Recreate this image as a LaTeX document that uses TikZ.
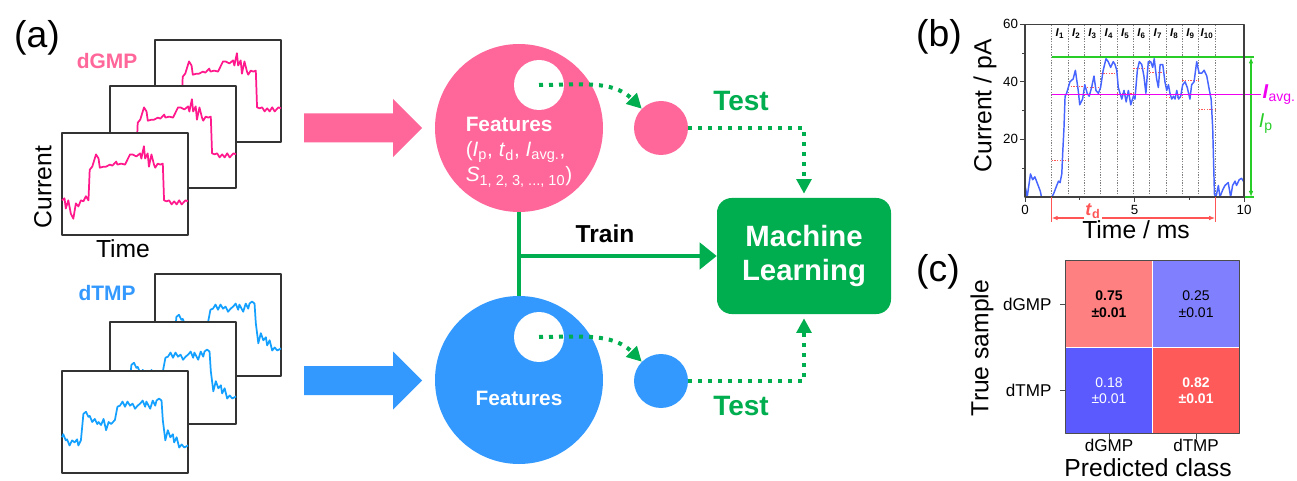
\documentclass[tikz,border=0pt]{standalone}
\usepackage{fontspec}
\setmainfont{Liberation Sans}
\usetikzlibrary{arrows.meta,positioning}
\definecolor{gmppink}{RGB}{255,102,153}
\definecolor{gmpline}{RGB}{255,25,140}
\definecolor{tmpblue}{RGB}{51,153,255}
\definecolor{tmpline}{RGB}{20,160,255}
\definecolor{mlgreen}{RGB}{0,173,79}
\definecolor{ipgreen}{RGB}{40,205,40}
\definecolor{avgmag}{RGB}{240,0,240}
\definecolor{tdred}{RGB}{255,85,85}
\definecolor{evblue}{RGB}{70,100,255}
\definecolor{cGG}{RGB}{255,128,128}
\definecolor{cGT}{RGB}{128,128,255}
\definecolor{cTG}{RGB}{90,90,255}
\definecolor{cTT}{RGB}{255,90,90}
% traces in a unit box (y down)
\def\gmpcurve{(0,0.66)--(0.02,0.64)--(0.03,0.74)--(0.05,0.66)--(0.07,0.79)--(0.09,0.84)--(0.11,0.69)--(0.13,0.72)--(0.15,0.66)--(0.17,0.67)--(0.19,0.62)--(0.21,0.66)--(0.22,0.36)--(0.24,0.33)--(0.27,0.21)--(0.29,0.25)--(0.30,0.34)--(0.33,0.33)--(0.35,0.33)--(0.38,0.31)--(0.40,0.32)--(0.43,0.28)--(0.44,0.31)--(0.47,0.30)--(0.50,0.31)--(0.52,0.26)--(0.54,0.21)--(0.56,0.21)--(0.59,0.23)--(0.62,0.20)--(0.63,0.25)--(0.65,0.13)--(0.66,0.25)--(0.68,0.20)--(0.69,0.33)--(0.71,0.21)--(0.73,0.31)--(0.74,0.34)--(0.76,0.30)--(0.78,0.31)--(0.80,0.30)--(0.81,0.66)--(0.83,0.67)--(0.85,0.66)--(0.87,0.70)--(0.89,0.67)--(0.91,0.70)--(0.93,0.66)--(0.95,0.70)--(0.98,0.66)--(1,0.67)}
\def\tmpcurve{(0,0.65)--(0.01,0.62)--(0.03,0.68)--(0.04,0.67)--(0.06,0.73)--(0.08,0.68)--(0.10,0.70)--(0.12,0.67)--(0.13,0.73)--(0.15,0.68)--(0.17,0.42)--(0.19,0.40)--(0.21,0.45)--(0.22,0.44)--(0.24,0.50)--(0.26,0.47)--(0.28,0.52)--(0.29,0.50)--(0.31,0.53)--(0.33,0.47)--(0.35,0.58)--(0.37,0.50)--(0.39,0.52)--(0.42,0.48)--(0.44,0.35)--(0.46,0.34)--(0.48,0.30)--(0.50,0.35)--(0.52,0.30)--(0.54,0.34)--(0.56,0.32)--(0.58,0.37)--(0.60,0.34)--(0.62,0.32)--(0.64,0.29)--(0.66,0.35)--(0.67,0.30)--(0.70,0.37)--(0.72,0.29)--(0.74,0.34)--(0.75,0.29)--(0.77,0.27)--(0.79,0.29)--(0.80,0.48)--(0.82,0.68)--(0.84,0.58)--(0.86,0.65)--(0.88,0.62)--(0.89,0.70)--(0.91,0.65)--(0.93,0.75)--(0.95,0.72)--(0.97,0.75)--(1,0.73)}
% event in ms / pA
\def\eventcurve{(0,4)--(0.1,0)--(0.25,8)--(0.35,6)--(0.45,7)--(0.6,4)--(0.7,2)--(0.75,0)--(1.22,0)--(1.3,1)--(1.45,4)--(1.53,5.5)--(1.6,5)--(1.68,8)--(1.72,15)--(1.78,24)--(1.83,35)--(1.9,36)--(2.05,40)--(2.2,41)--(2.3,44)--(2.43,37)--(2.5,32)--(2.63,34)--(2.73,39)--(2.84,36)--(2.93,35)--(3.04,38)--(3.15,42)--(3.24,37)--(3.35,36)--(3.45,38)--(3.57,44)--(3.7,48)--(3.8,47)--(3.91,45)--(4.03,47)--(4.11,46)--(4.19,44)--(4.26,38)--(4.34,36)--(4.42,34)--(4.52,37)--(4.62,33)--(4.72,37)--(4.83,32)--(4.95,35)--(5.02,34)--(5.13,44)--(5.22,47)--(5.33,46)--(5.43,42)--(5.52,36)--(5.63,47)--(5.74,47)--(5.83,45)--(5.9,48)--(6.01,41)--(6.09,38)--(6.17,46)--(6.29,46)--(6.39,40)--(6.47,37)--(6.55,39)--(6.62,36)--(6.7,34)--(6.78,35)--(6.85,34)--(6.93,37)--(7.01,34)--(7.11,35)--(7.2,39)--(7.31,40)--(7.41,38)--(7.53,34)--(7.61,39)--(7.72,40)--(7.84,47)--(7.95,43)--(8.07,43)--(8.18,44)--(8.3,42)--(8.42,37)--(8.5,34)--(8.57,24)--(8.65,1)--(8.72,0)--(8.83,4)--(8.9,0)--(9.03,2.5)--(9.13,4)--(9.28,5)--(9.39,0)--(9.48,4)--(9.59,5.5)--(9.66,4)--(9.78,6)--(9.89,6.5)--(9.97,5.5)}
\begin{document}
\begin{tikzpicture}[x=0.75pt, y=-0.75pt, line join=round,
  panel/.style={font=\fontsize{28}{30}\selectfont},
  axlab/.style={font=\fontsize{18.5}{22}\selectfont},
  ticklab/.style={font=\fontsize{10}{12}\selectfont},
  sample/.style={font=\fontsize{15.7}{19}\selectfont\bfseries},
  boxframe/.style={draw=black!80, line width=1.1pt, fill=white},
  trc/.style={line width=1.3pt},
  blob/.style={circle, inner sep=0pt, minimum size=126pt},
  hole/.style={circle, fill=white, inner sep=0pt, minimum size=37.5pt},
  dotnode/.style={circle, inner sep=0pt, minimum size=40.5pt},
  feat/.style={text=white, font=\fontsize{15.6}{19}\selectfont},
  testline/.style={mlgreen, line width=3pt, line cap=butt, dash pattern=on 3pt off 4.5pt, -{Triangle[length=11pt,width=11pt]}},
  trainline/.style={mlgreen, line width=3.5pt},
  greenlab/.style={text=mlgreen, font=\fontsize{21}{24}\selectfont\bfseries},
  cell/.style={minimum width=64.9pt, minimum height=64.5pt, inner sep=0pt, align=center, font=\fontsize{10.5}{12.5}\selectfont},
  cellb/.style={cell, font=\fontsize{10.5}{12.5}\selectfont\bfseries},
  cmlab/.style={font=\fontsize{12.8}{15}\selectfont}]
\useasboundingbox (0,0) rectangle (1297,481);

% ---------- (a) ----------
\node[panel] (la) at (37,38) {(a)};
\node[sample, text=gmppink] (gmplab) at (107,61) {dGMP};
\node[sample, text=tmpblue] (tmplab) at (107,293) {dTMP};
\foreach \dx/\dy in {155/40, 110/86, 62/133}{
  \begin{scope}[shift={(\dx,\dy)}, x=94.5pt, y=-76.5pt]
    \draw[boxframe] (0,0) rectangle (1,1);
    \draw[gmpline, trc] \gmpcurve;
  \end{scope}}
\foreach \dx/\dy in {155/274, 110/322, 62/371}{
  \begin{scope}[shift={(\dx,\dy)}, x=94.5pt, y=-76.5pt]
    \draw[boxframe] (0,0) rectangle (1,1);
    \draw[tmpline, trc] \tmpcurve;
  \end{scope}}
\node[axlab, rotate=90] (curlab) at (43,187) {Current};
\node[axlab] (timelab) at (123,249) {Time};

\foreach \c/\y in {gmppink/128, tmpblue/380.5}
  \fill[\c] (304,\y-14.5) -- (393,\y-14.5) -- (393,\y-29) -- (422,\y)
    -- (393,\y+29) -- (393,\y+14.5) -- (304,\y+14.5) -- cycle;

\node[blob, fill=gmppink] (gmpbig) at (519,128) {};
\node[hole] (gmphole) at (539,85) {};
\node[dotnode, fill=gmppink] (gmpdot) at (661,128) {};
\node[feat, align=left] (gmpfeat) at (519,152) {\textbf{Features}\\(\textit{I}\textsubscript{p}, \textit{t}\textsubscript{d}, \textit{I}\textsubscript{avg.},\\\textit{S}\textsubscript{1, 2, 3, ..., 10})};

\node[blob, fill=tmpblue] (tmpbig) at (519,380) {};
\node[hole] (tmphole) at (539,337) {};
\node[dotnode, fill=tmpblue] (tmpdot) at (661,381) {};
\node[feat] (tmpfeat) at (519,398) {\textbf{Features}};

\node[fill=mlgreen, rounded corners=11pt, minimum width=130.5pt, minimum height=87pt, align=center,
  text=white, font=\fontsize{22}{26}\selectfont\bfseries] (ml) at (804,256) {Machine\\Learning};

\draw[trainline] (gmpbig.south) -- (tmpbig.north);
\draw[trainline, -{Triangle[length=12.75pt,width=19.5pt]}] (gmpbig.south |- ml.west) -- (ml.west);
\node[font=\fontsize{18.4}{22}\selectfont\bfseries] (train) at (605,234) {Train};

\draw[testline] (gmphole.center) to[out=0, in=135] (gmpdot);
\draw[testline] (tmphole.center) to[out=0, in=135] (tmpdot);
\draw[testline, shorten >=3pt] (gmpdot.east) -| (ml.north);
\draw[testline, shorten >=3pt] (tmpdot.east) -| (ml.south);
\node[greenlab] (testtop) at (741,101) {Test};
\node[greenlab] (testbot) at (741,406) {Test};

% ---------- (b) ----------
\node[panel] (lb) at (939,37) {(b)};
\begin{scope}[shift={(1025,197)}, x=16.425pt, y=2.16pt]
  \foreach \k in {0,...,10}
    \draw[black!50, line width=0.5pt, dash pattern=on 1pt off 1pt] ({1.22+0.746*\k},0) -- ++(0,60);
  \foreach \k/\v in {1/12.7, 2/38.5, 3/38.2, 4/42.8, 5/35.8, 6/44.6, 7/43.2, 8/34.7, 9/40.5, 10/30.4}
    \draw[tdred, line width=0.6pt, dash pattern=on 1pt off 1pt] ({1.22+0.746*(\k-1)},\v) -- ++(0.746,0);
  \foreach \k in {1,...,10}
    \node[font=\fontsize{8.5}{10}\selectfont\bfseries] (I\k) at ({1.22+0.746*(\k-0.5)},56.6) {\textit{I}\textsubscript{\k}};
  \draw[evblue, line width=1.1pt] \eventcurve;
  \coordinate (ptop) at (1.22,48.5);
  \coordinate (atop) at (1.22,35.6);
  \draw[ipgreen, line width=1.3pt] (ptop) -- (10.45,48.5);
  \draw[ipgreen, line width=1.3pt] (10,0) -- (10.45,0);
  \draw[ipgreen, line width=0.9pt, {Latex[length=4.5pt,width=3.5pt]}-{Latex[length=4.5pt,width=3.5pt]}] (10.32,48.5) -- (10.32,0);
  \draw[avgmag, line width=1.4pt] (atop) -- (10.78,35.6);
  \node[anchor=west, inner sep=1pt, text=avgmag, font=\fontsize{15}{17}\selectfont] (Iavg) at (10.78,35.6) {\textbf{\textit{I}}\textsubscript{avg.}};
  \node[anchor=west, inner sep=1pt, text=ipgreen, font=\fontsize{15}{17}\selectfont] (Ip) at (10.6,25.6) {\textit{I}\textsubscript{p}};
  \draw[black!75, line width=0.8pt] (0,0) rectangle (10,60);
  \foreach \v in {20,40,60} {
    \draw[black!75, line width=0.6pt] (0,\v) -- ++(-0.22,0);
    \node[ticklab, anchor=east, inner sep=1pt] (yt\v) at (-0.25,\v) {\v};}
  \foreach \v in {10,30,50} \draw[black!75, line width=0.6pt] (0,\v) -- ++(-0.12,0);
  \foreach \t in {0,5,10} {
    \draw[black!75, line width=0.6pt] (\t,0) -- ++(0,-1.6);
    \node[ticklab] (xt\t) at (\t,-4.4) {\t};}
  \foreach \t in {2.5,7.5} \draw[black!75, line width=0.6pt] (\t,0) -- ++(0,-0.9);
  \draw[tdred, line width=0.8pt] (1.22,0) -- (1.22,-8.8) (8.68,0) -- (8.68,-8.8);
  \draw[tdred, line width=0.8pt, {Latex[length=4.5pt,width=3.5pt]}-{Latex[length=4.5pt,width=3.5pt]}] (1.22,-7.3) -- (8.68,-7.3);
  \node[text=tdred, fill=white, inner sep=1pt, font=\fontsize{13.5}{15}\selectfont\bfseries] (td) at (3.1,-5) {\textit{t}\textsubscript{d}};
\end{scope}
\node[axlab, rotate=90] (curpa) at (985,106) {Current / pA};
\node[axlab] (timems) at (1136,230) {Time / ms};

% ---------- (c) ----------
\node[panel] (lc) at (938,272) {(c)};
\node[cellb, fill=cGG] (c11) at (1109,304) {0.75\\±0.01};
\node[cell, fill=cGT, right=0pt of c11] (c12) {0.25\\±0.01};
\node[cell, fill=cTG, text=white, below=0pt of c11] (c21) {0.18\\±0.01};
\node[cellb, fill=cTT, text=white, right=0pt of c21] (c22) {0.82\\±0.01};
\draw[black!70, line width=0.8pt] (c11.north west) rectangle (c22.south east);
\foreach \n/\t in {c11/dGMP, c21/dTMP} {
  \draw[black!70, line width=0.6pt] (\n.west) -- ++(-5,0);
  \node[cmlab, anchor=east] (y\t) at ([xshift=-7pt]\n.west) {\t};}
\foreach \n/\t in {c21/dGMP, c22/dTMP} {
  \draw[black!70, line width=0.6pt] (\n.south) -- ++(0,5);
  \node[cmlab, anchor=north, inner sep=0pt] (x\t) at ([yshift=-4pt]\n.south) {\t};}
\node[axlab, inner sep=0pt] (predlab) at (1148,468) {Predicted class};
\node[axlab, rotate=90] (truelab) at (982,348) {True sample};
\end{tikzpicture}
\end{document}
